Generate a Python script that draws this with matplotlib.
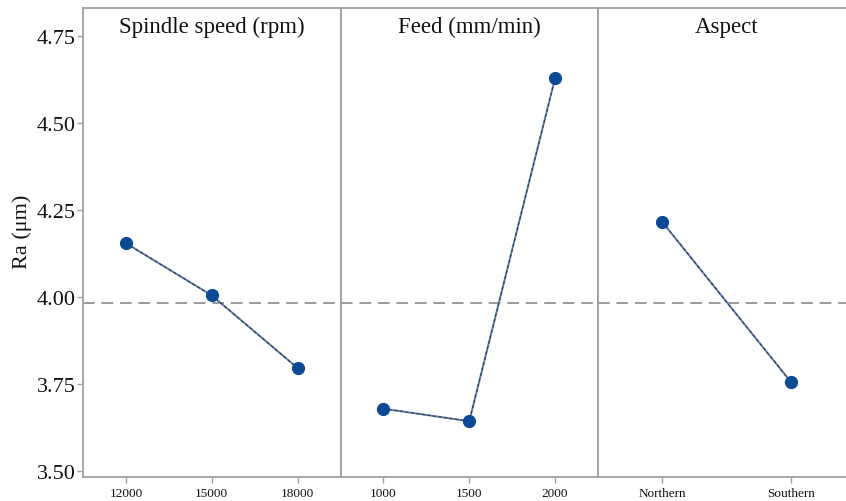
import matplotlib
matplotlib.use("Agg")
import matplotlib.pyplot as plt

# ── Données ──────────────────────────────────────────────────────────────────
spindle_levels = ["12000", "15000", "18000"]
spindle_ra     = [4.155, 4.005, 3.796]

feed_levels = ["1000", "1500", "2000"]
feed_ra     = [3.679, 3.643, 4.630]

aspect_levels = ["Northern", "Southern"]
aspect_ra     = [4.216, 3.755]

panel_titles = ["Spindle speed (rpm)", "Feed (mm/min)", "Aspect"]
grand_mean = 3.983
y_ticks = [3.50, 3.75, 4.00, 4.25, 4.50, 4.75]

# ── Style ─────────────────────────────────────────────────────────────────────
FRAME = "#a0a0a0"
MARKER = "#0d4a94"
LINE = "#5a7fb8"

plt.rcParams.update({
    "font.family": ["Liberation Serif", "DejaVu Serif"],
    "axes.edgecolor": FRAME,
    "axes.linewidth": 1.3,
    "xtick.color": FRAME,
    "ytick.color": FRAME,
    "xtick.labelcolor": "#111111",
    "ytick.labelcolor": "#111111",
})

W, H = 846, 502
fig = plt.figure(figsize=(W / 100, H / 100), dpi=100)

left_px, top_px, bottom_px = 83, 9.3, 478
panel_w = 257.5
bottom = 1 - bottom_px / H
height = (bottom_px - top_px) / H

panels = [
    (spindle_levels, spindle_ra),
    (feed_levels, feed_ra),
    (aspect_levels, aspect_ra),
]

for i, ((levels, vals), title) in enumerate(zip(panels, panel_titles)):
    ax = fig.add_axes([(left_px + i * panel_w) / W, bottom, panel_w / W, height])
    x = list(range(len(levels)))

    ax.axhline(grand_mean, color="#9a9a9a", lw=1.4, ls=(0, (6, 3.5)), zorder=1)
    ax.plot(x, vals, color=LINE, lw=1.4, zorder=2)
    ax.plot(x, vals, color="#3a3a3a", lw=0.8, ls=(0, (3, 2)), zorder=3)
    ax.plot(x, vals, ls="none", marker="o", ms=8.5, color=MARKER,
            markeredgecolor=MARKER, zorder=4)

    ax.set_xlim(-0.5, len(levels) - 0.5)
    ax.set_ylim(3.4825, 4.831)
    ax.set_xticks(x)
    ax.set_xticklabels(levels, fontsize=9.5)
    ax.tick_params(axis="x", length=4, width=1, pad=3.5)
    ax.set_yticks(y_ticks)
    if i == 0:
        ax.set_yticklabels([f"{v:.2f}" for v in y_ticks], fontsize=16)
        ax.tick_params(axis="y", length=4, width=1, pad=1)
    else:
        ax.tick_params(axis="y", left=False, labelleft=False)

    ax.text(0.5, 0.962, title, transform=ax.transAxes, ha="center",
            va="center", fontsize=16.5, color="#111111")

fig.text(22 / W, 1 - 232 / H, "Ra (μm)", rotation=90, ha="center",
         va="center", fontsize=16, color="#111111")

fig.savefig("out.png", dpi=100, facecolor="white")
